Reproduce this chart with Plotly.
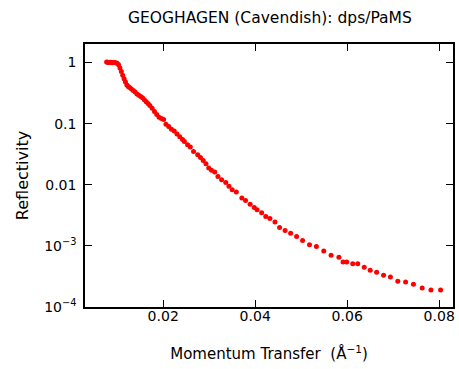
import plotly.graph_objects as go

q = [0.0077, 0.0079, 0.0081, 0.0083, 0.0085, 0.0087, 0.0089, 0.0092, 0.0094, 0.0097, 0.0100,
     0.0103, 0.0106, 0.0109, 0.0112, 0.0115, 0.0118, 0.0121, 0.0124, 0.0127, 0.0131,
     0.0135, 0.0139, 0.0143, 0.0147, 0.0151, 0.0155, 0.0159, 0.0163, 0.0167, 0.0171,
     0.0176, 0.0181, 0.0186, 0.0191, 0.0196, 0.0201, 0.0206, 0.0212, 0.0218, 0.0224,
     0.0230, 0.0236, 0.0242, 0.0246, 0.0253, 0.0259, 0.0266, 0.0275, 0.0281, 0.0287,
     0.0293, 0.0299, 0.0305, 0.0312, 0.0319, 0.0327, 0.0336, 0.0343, 0.0350, 0.0359,
     0.0371, 0.0379, 0.0389, 0.0398, 0.0404, 0.0414, 0.0423, 0.0432, 0.0443, 0.0453,
     0.0465, 0.0477, 0.0490, 0.0503, 0.0518, 0.0533, 0.0549, 0.0565, 0.0582, 0.0591,
     0.0599, 0.0612, 0.0623, 0.0637, 0.0650, 0.0664, 0.0679, 0.0694, 0.0710, 0.0727,
     0.0744, 0.0763, 0.0782, 0.0803]

R = [1.02, 1.01, 1.00, 1.00, 1.01, 1.00, 0.99, 1.00, 1.00, 0.99, 0.97,
     0.92, 0.81, 0.71, 0.62, 0.545, 0.478, 0.427, 0.407, 0.392, 0.369,
     0.347, 0.328, 0.306, 0.291, 0.279, 0.264, 0.246, 0.229, 0.214, 0.198,
     0.178, 0.158, 0.141, 0.127, 0.121, 0.117, 0.098, 0.090, 0.081, 0.0755,
     0.068, 0.0611, 0.0548, 0.0509, 0.045, 0.0413, 0.035, 0.0309, 0.0279, 0.0249,
     0.0221, 0.0188, 0.0172, 0.0162, 0.0137, 0.0121, 0.0109, 0.00942, 0.00832, 0.00763,
     0.0061, 0.00551, 0.0048, 0.00425, 0.0039, 0.00347, 0.00302, 0.0028, 0.00246, 0.0020,
     0.00179, 0.00161, 0.00143, 0.00123, 0.00104, 0.000975, 0.000823, 0.0007, 0.00065, 0.000545,
     0.000545, 0.000509, 0.000509, 0.000447, 0.000399, 0.00037, 0.000331, 0.00031, 0.000264, 0.000257,
     0.000236, 0.000205, 0.00019, 0.00019]

xtick_vals = [0.02, 0.04, 0.06, 0.08]
xtick_text = ["0.02", "0.04", "0.06", "0.08"]
ytick_vals = [1, 0.1, 0.01, 0.001, 0.0001]
ytick_text = ["1", "0.1", "0.01", "10<sup>\u22123</sup>", "10<sup>\u22124</sup>"]

FONT = "DejaVu Sans, Liberation Sans, sans-serif"

fig = go.Figure()
fig.add_trace(go.Scatter(
    x=q, y=R, mode="markers",
    marker=dict(color="#ff0000", size=5, line=dict(width=0)),
    showlegend=False,
))

axis_common = dict(
    showline=True, linecolor="black", linewidth=1.5, mirror="ticks",
    ticks="inside", ticklen=7, tickwidth=1.2, tickcolor="black",
    showgrid=False, zeroline=False,
    tickfont=dict(family=FONT, size=14, color="black"),
)

fig.update_layout(
    width=459, height=369,
    margin=dict(l=85, r=4, t=44, b=62),
    paper_bgcolor="white", plot_bgcolor="white",
    font=dict(family=FONT, color="black"),
    title=dict(text="GEOGHAGEN (Cavendish): dps/PaMS", x=0.588, xanchor="center",
               y=0.953, yanchor="middle", font=dict(family=FONT, size=15.5, color="black")),
    xaxis=dict(range=[0.003, 0.083], tickvals=xtick_vals, ticktext=xtick_text,
               title=dict(text="Momentum Transfer  (\u00c5<sup>\u22121</sup>)",
                          font=dict(family=FONT, size=15, color="black"), standoff=26),
               ticklabelstandoff=-5,
               **axis_common),
    yaxis=dict(type="log", range=[-4, 0.303], tickvals=ytick_vals, ticktext=ytick_text,
               title=dict(text="Reflectivity", font=dict(family=FONT, size=16, color="black"),
                          standoff=12),
               ticklabelstandoff=4,
               **axis_common),
)

fig.write_html("out.html")
